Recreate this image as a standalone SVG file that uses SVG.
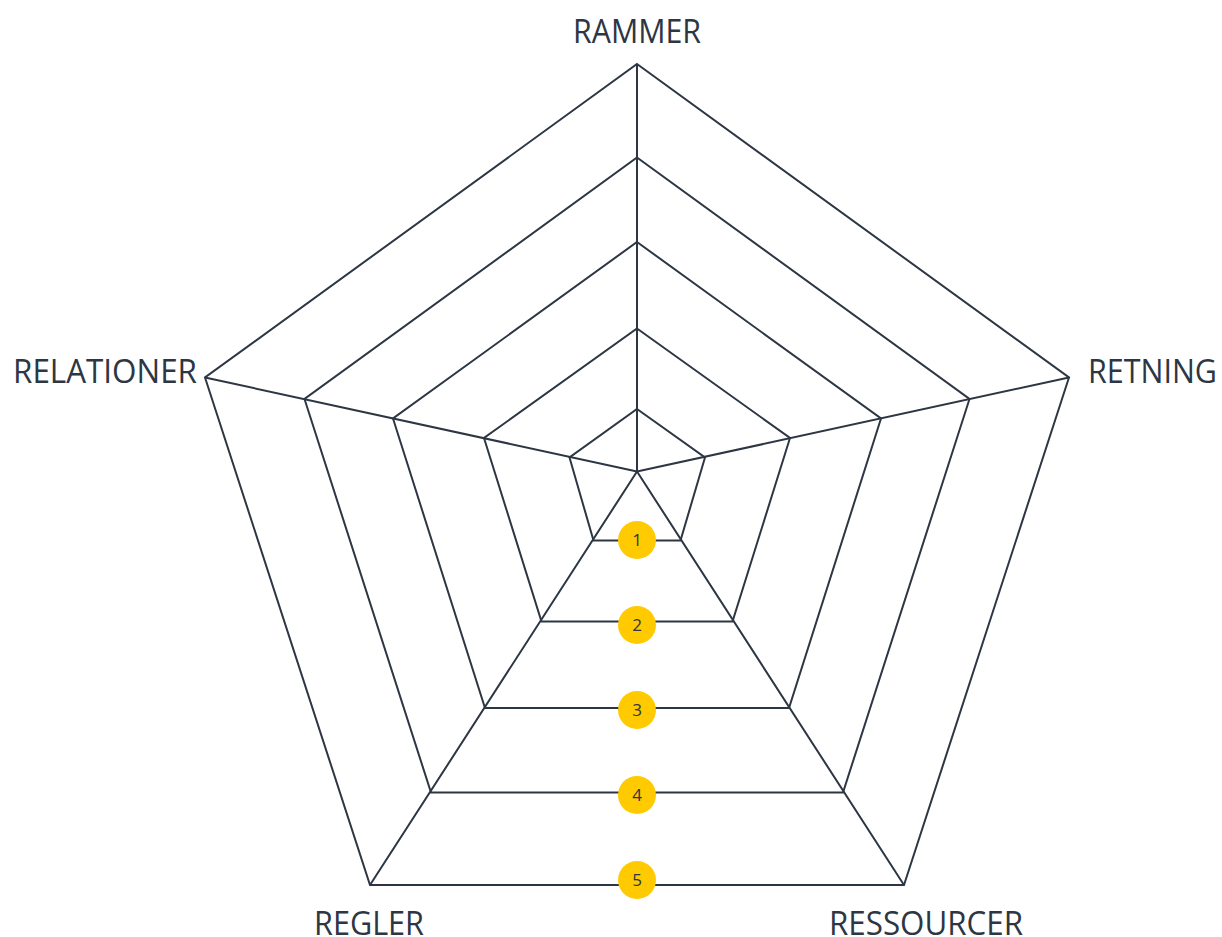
<svg xmlns="http://www.w3.org/2000/svg" width="1222" height="937" viewBox="0 0 1222 937">
<style>
.ln{fill:none;stroke:#2d3643;stroke-width:2;stroke-linejoin:miter}
.lbl{font-family:"Open Sans","Noto Sans","Liberation Sans",sans-serif;font-size:33px;fill:#2d3643}
.badge{fill:#ffca00}
.num{font-family:"Open Sans","Noto Sans","Liberation Sans",sans-serif;font-size:17px;fill:#2d3643;text-anchor:middle}
</style>
<rect width="1222" height="937" fill="#ffffff"/>
<g id="connectors">
<polygon id="level5" class="ln" points="637,64 1069,377.5 904,885 370,885 205,377.5"/>
<polygon id="level4" class="ln" points="637,157.5 969.5,399 843,792.5 431,792.5 304.5,399"/>
<polygon id="level3" class="ln" points="637,242 881,418.5 789,708 485,708 393,418.5"/>
<polygon id="level2" class="ln" points="637,328.5 790,438 732.5,621.5 541.5,621.5 484,438"/>
<polygon id="level1" class="ln" points="637,409 705,457.5 680.5,540.5 593.5,540.5 569.5,457.5"/>
<path class="ln" d="M637,471.5 L637,64 M637,471.5 L1069,377.5 M637,471.5 L904,885 M637,471.5 L370,885 M637,471.5 L205,377.5"/>
</g>
<g id="badge1"><circle class="badge" cx="637" cy="540" r="19"/><text class="num" x="637" y="546">1</text></g>
<g id="badge2"><circle class="badge" cx="637" cy="625" r="19"/><text class="num" x="637" y="631">2</text></g>
<g id="badge3"><circle class="badge" cx="637" cy="710" r="19"/><text class="num" x="637" y="716">3</text></g>
<g id="badge4"><circle class="badge" cx="637" cy="795" r="19"/><text class="num" x="637" y="801">4</text></g>
<g id="badge5"><circle class="badge" cx="637" cy="880" r="19"/><text class="num" x="637" y="886">5</text></g>
<g id="label-rammer"><text class="lbl" x="573" y="43" textLength="128" lengthAdjust="spacingAndGlyphs">RAMMER</text></g>
<g id="label-retning"><text class="lbl" x="1088" y="383" textLength="129" lengthAdjust="spacingAndGlyphs">RETNING</text></g>
<g id="label-relationer"><text class="lbl" x="13" y="383" textLength="184" lengthAdjust="spacingAndGlyphs">RELATIONER</text></g>
<g id="label-regler"><text class="lbl" x="314" y="935" textLength="110" lengthAdjust="spacingAndGlyphs">REGLER</text></g>
<g id="label-ressourcer"><text class="lbl" x="829" y="935" textLength="194" lengthAdjust="spacingAndGlyphs">RESSOURCER</text></g>
</svg>
